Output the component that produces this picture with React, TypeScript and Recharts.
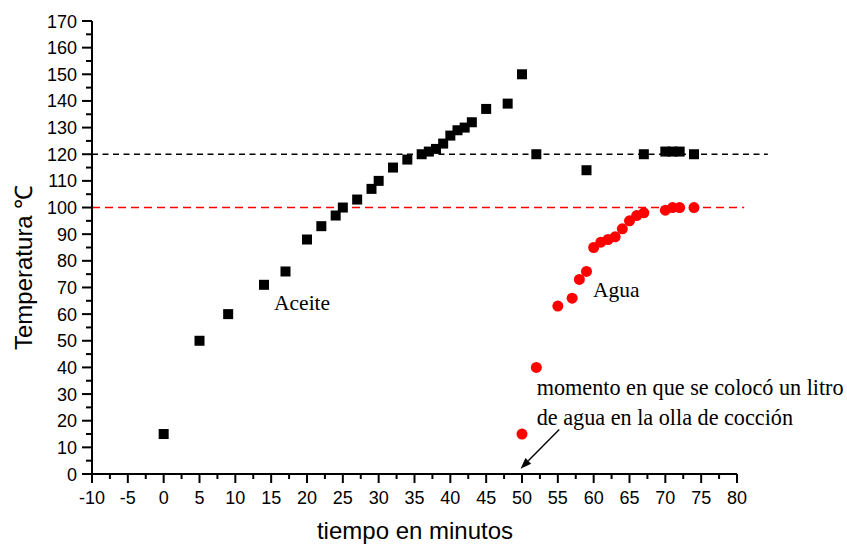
import { ReferenceDot, ReferenceLine, Scatter, ScatterChart, XAxis, YAxis, Label } from 'recharts'

// Aceite (black squares)
const aceiteTiempo = [0, 5, 9, 14, 17, 20, 22, 24, 25, 27, 29, 30, 32, 34, 36, 37, 38, 39, 40, 41, 42, 43, 45, 48, 50, 52, 59, 67, 70, 71, 72, 74]
const aceiteTemp = [15, 50, 60, 71, 76, 88, 93, 97, 100, 103, 107, 110, 115, 118, 120, 121, 122, 124, 127, 129, 130, 132, 137, 139, 150, 120, 114, 120, 121, 121, 121, 120]

// Agua (red circles)
const aguaTiempo = [50, 52, 55, 57, 58, 59, 60, 61, 62, 63, 64, 65, 66, 67, 70, 71, 72, 74]
const aguaTemp = [15, 40, 63, 66, 73, 76, 85, 87, 88, 89, 92, 95, 97, 98, 99, 100, 100, 100]

const xTicks = [-10, -7.5, -5, -2.5, 0, 2.5, 5, 7.5, 10, 12.5, 15, 17.5, 20, 22.5, 25, 27.5, 30, 32.5, 35, 37.5, 40, 42.5, 45, 47.5, 50, 52.5, 55, 57.5, 60, 62.5, 65, 67.5, 70, 72.5, 75, 77.5, 80]
const yTicks = [0, 5, 10, 15, 20, 25, 30, 35, 40, 45, 50, 55, 60, 65, 70, 75, 80, 85, 90, 95, 100, 105, 110, 115, 120, 125, 130, 135, 140, 145, 150, 155, 160, 165, 170]

const aceite = aceiteTiempo.map((x, i) => ({ x, y: aceiteTemp[i] }))
const agua = aguaTiempo.map((x, i) => ({ x, y: aguaTemp[i] }))

const sans = '"Liberation Sans", Arial, sans-serif'
const serif = '"Liberation Serif", "Times New Roman", serif'

function YTick(props: any) {
  const { x, y, payload } = props
  const v = payload.value
  const major = v % 10 === 0
  return (
    <g>
      <line x1={x - (major ? 10 : 6)} x2={x} y1={y} y2={y} stroke="#000" strokeWidth={2} />
      {major && (
        <text x={x - 15} y={y + 6.5} textAnchor="end" fontSize={18} fontFamily={sans} fill="#000">
          {v}
        </text>
      )}
    </g>
  )
}

function XTick(props: any) {
  const { x, y, payload } = props
  const v = payload.value
  const major = v % 5 === 0
  return (
    <g>
      <line x1={x} x2={x} y1={y} y2={y + (major ? 9 : 5)} stroke="#000" strokeWidth={2} />
      {major && (
        <text x={x} y={y + 30} textAnchor="middle" fontSize={18} fontFamily={sans} fill="#000">
          {v}
        </text>
      )}
    </g>
  )
}

const square = (p: any) => <rect x={p.cx - 5} y={p.cy - 5} width={10} height={10} fill="#000" />
const circle = (p: any) => <circle cx={p.cx} cy={p.cy} r={5.5} fill="#ff0000" />

const note = (text: string, size = 21.5) => (p: any) => (
  <text x={p.cx} y={p.cy} fontSize={size} fontFamily={serif} fill="#000">
    {text}
  </text>
)

const arrow = (p: any) => {
  const { x1, y1, x2, y2 } = p
  const a = Math.atan2(y2 - y1, x2 - x1)
  const len = 11
  const w = 4
  const bx = x2 - len * Math.cos(a)
  const by = y2 - len * Math.sin(a)
  const px = -Math.sin(a) * w
  const py = Math.cos(a) * w
  return (
    <g>
      <line x1={x1} y1={y1} x2={bx} y2={by} stroke="#000" strokeWidth={1.4} />
      <polygon points={`${x2},${y2} ${bx + px},${by + py} ${bx - px},${by - py}`} fill="#000" />
    </g>
  )
}

export default function App() {
  return (
    <div style={{ position: 'absolute', left: 0, top: 0, background: '#fff' }}>
      <ScatterChart width={847} height={545} margin={{ top: 21, right: 110, left: 32, bottom: 21 }}>
        <XAxis
          type="number"
          dataKey="x"
          domain={[-10, 80]}
          ticks={xTicks}
          interval={0}
          tick={<XTick />}
          tickLine={false}
          tickSize={0}
          tickMargin={0}
          height={50}
          axisLine={{ stroke: '#000', strokeWidth: 2 }}
        >
          <Label
            content={() => (
              <text x={415} y={539} textAnchor="middle" fontSize={24} fontFamily={sans} fill="#000">
                tiempo en minutos
              </text>
            )}
          />
        </XAxis>
        <YAxis
          type="number"
          dataKey="y"
          domain={[0, 170]}
          ticks={yTicks}
          interval={0}
          tick={<YTick />}
          tickLine={false}
          tickSize={0}
          tickMargin={0}
          width={60}
          axisLine={{ stroke: '#000', strokeWidth: 2 }}
        >
          <Label
            content={() => (
              <text
                x={31.7}
                y={350}
                transform="rotate(-90, 31.7, 350)"
                textAnchor="start"
                fontSize={24}
                fontFamily={sans}
                fill="#000"
              >
                Temperatura ℃
              </text>
            )}
          />
        </YAxis>
        <ReferenceLine
          segment={[{ x: -10, y: 120 }, { x: 84.3, y: 120 }]}
          ifOverflow="visible"
          stroke="#000"
          strokeWidth={1.3}
          strokeDasharray="6 4.5"
        />
        <ReferenceLine
          segment={[{ x: -10, y: 100 }, { x: 81, y: 100 }]}
          ifOverflow="visible"
          stroke="#ff0000"
          strokeWidth={1.5}
          strokeDasharray="8 5"
        />
        <Scatter data={aceite} shape={square} isAnimationActive={false} />
        <Scatter data={agua} shape={circle} isAnimationActive={false} />
        <ReferenceDot x={15.4} y={61.7} r={0} shape={note('Aceite')} />
        <ReferenceDot x={59.9} y={66.4} r={0} shape={note('Agua')} />
        <ReferenceDot x={52.06} y={29.5} r={0} shape={note('momento en que se colocó un litro', 22.2)} />
        <ReferenceDot x={52.06} y={18.3} r={0} shape={note('de agua en la olla de cocción', 22.2)} />
        <ReferenceLine segment={[{ x: 55.2, y: 16.7 }, { x: 49.8, y: 2 }]} ifOverflow="visible" shape={arrow} />
      </ScatterChart>
    </div>
  )
}
